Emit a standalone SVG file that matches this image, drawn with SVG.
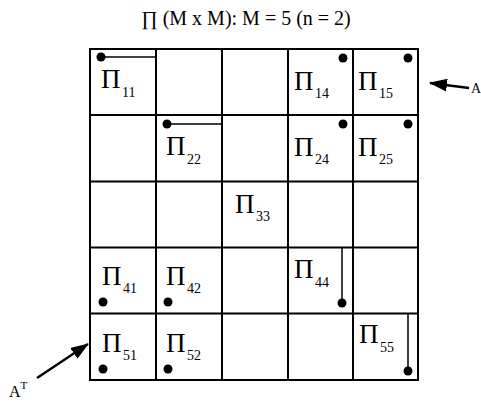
<svg xmlns="http://www.w3.org/2000/svg" width="481" height="405" viewBox="0 0 481 405">
<style>
.t{font-family:"Liberation Serif","Times New Roman",serif;fill:#000}
.pi{font-size:27px}
.sb{font-size:14px}
.g{stroke:#000;stroke-width:2;fill:none}
.s{stroke:#000;stroke-width:1.5;fill:none}
.d{fill:#000}
.c{stroke:#000;stroke-width:2.5;fill:none}
</style>
<defs>
<marker id="ah" markerWidth="18" markerHeight="13" refX="17" refY="6.5" orient="auto" markerUnits="userSpaceOnUse" viewBox="0 0 18 13">
<path d="M0,0 L18,6.5 L0,13 Z" fill="#000"/>
</marker>
</defs>
<rect width="481" height="405" fill="#fff"/>
<text class="t" x="246" y="25" font-size="20" text-anchor="middle">∏ (M x M): M = 5 (n = 2)</text>
<g id="grid">
<rect class="g" x="90" y="49" width="328" height="331"/>
<path class="g" d="M156,49V380M222,49V380M288,49V380M353,49V380M90,115H418M90,181.5H418M90,247.5H418M90,313.5H418"/>
</g>
<g id="p11"><path class="s" d="M101,57H155"/><circle class="d" cx="101" cy="57" r="4.5"/><text class="t pi" x="101" y="88">Π</text><text class="t sb" x="122" y="97">11</text></g>
<g id="p22"><path class="s" d="M167,124H221"/><circle class="d" cx="167" cy="124" r="4.5"/><text class="t pi" x="166" y="155">Π</text><text class="t sb" x="187" y="164">22</text></g>
<g id="p14"><circle class="d" cx="343" cy="58" r="4.5"/><text class="t pi" x="294" y="90">Π</text><text class="t sb" x="315" y="98">14</text></g>
<g id="p15"><circle class="d" cx="408" cy="58" r="4.5"/><text class="t pi" x="358" y="90">Π</text><text class="t sb" x="379" y="98">15</text></g>
<g id="p24"><circle class="d" cx="343" cy="124" r="4.5"/><text class="t pi" x="294" y="156">Π</text><text class="t sb" x="315" y="164">24</text></g>
<g id="p25"><circle class="d" cx="408" cy="124" r="4.5"/><text class="t pi" x="358" y="156">Π</text><text class="t sb" x="379" y="164">25</text></g>
<g id="p33"><text class="t pi" x="235" y="213">Π</text><text class="t sb" x="256" y="221">33</text></g>
<g id="p41"><circle class="d" cx="103" cy="302" r="4.5"/><text class="t pi" x="102" y="285">Π</text><text class="t sb" x="123" y="293">41</text></g>
<g id="p42"><circle class="d" cx="168" cy="302" r="4.5"/><text class="t pi" x="166" y="285">Π</text><text class="t sb" x="187" y="293">42</text></g>
<g id="p44"><path class="s" d="M342,248V302"/><circle class="d" cx="342" cy="303" r="4.5"/><text class="t pi" x="294" y="278">Π</text><text class="t sb" x="315" y="287">44</text></g>
<g id="p51"><circle class="d" cx="103" cy="369" r="4.5"/><text class="t pi" x="102" y="352">Π</text><text class="t sb" x="123" y="360">51</text></g>
<g id="p52"><circle class="d" cx="168" cy="369" r="4.5"/><text class="t pi" x="166" y="352">Π</text><text class="t sb" x="187" y="360">52</text></g>
<g id="p55"><path class="s" d="M408,314V371"/><circle class="d" cx="408" cy="371" r="4.5"/><text class="t pi" x="359" y="343">Π</text><text class="t sb" x="380" y="352">55</text></g>
<g id="lblA"><text class="t" x="471" y="93" font-size="14">A</text></g>
<g id="lblAT"><text class="t" x="9" y="397" font-size="16">A<tspan font-size="11" dy="-8">T</tspan></text></g>
<g id="connectors">
<path class="c" d="M469,88L430,83" marker-end="url(#ah)"/>
<path class="c" d="M37,378L88,344" marker-end="url(#ah)"/>
</g>
</svg>
